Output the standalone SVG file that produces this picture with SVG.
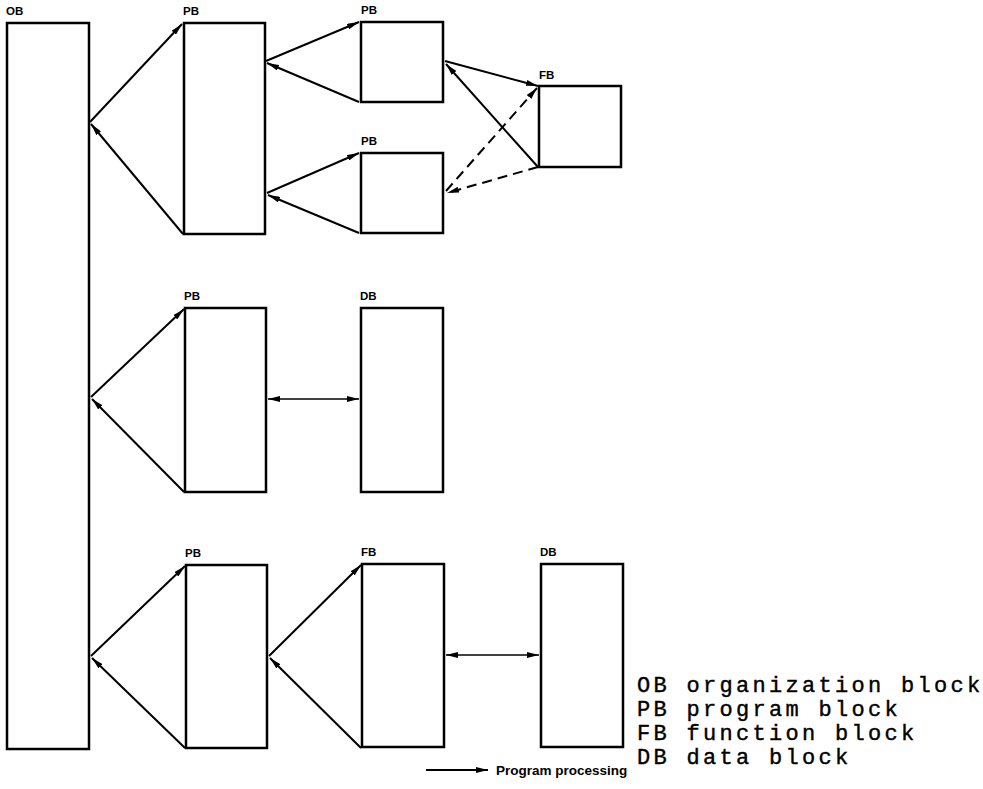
<svg xmlns="http://www.w3.org/2000/svg" width="983" height="789" viewBox="0 0 983 789">
<style>
.box{fill:#fff;stroke:#000;stroke-width:2.5}
.lbl{font-family:"Liberation Sans",Arial,sans-serif;font-size:11.5px;font-weight:bold;fill:#000}
.c{stroke:#000;stroke-width:2;fill:none}
.d{stroke:#000;stroke-width:1.6;fill:none}
.dash{stroke-dasharray:10 6}
.leg{font-family:"Liberation Mono","Courier New",monospace;font-size:22px;letter-spacing:3.3px;fill:#000;stroke:#000;stroke-width:0.4}
.pp{font-family:"Liberation Sans",Arial,sans-serif;font-size:13.5px;font-weight:bold;fill:#000}
</style>
<defs>
<marker id="ah" viewBox="0 0 12 6" refX="12" refY="3" markerWidth="12" markerHeight="6" markerUnits="userSpaceOnUse" orient="auto-start-reverse">
<path d="M0,0 L12,3 L0,6 Z" fill="#000"/>
</marker>
</defs>
<rect width="983" height="789" fill="#fff"/>
<g id="ob"><rect class="box" x="7" y="23" width="82" height="726"/><text class="lbl" x="6" y="15">OB</text></g>
<g id="pb1"><rect class="box" x="184" y="23" width="81" height="211"/><text class="lbl" x="183" y="15">PB</text></g>
<g id="pb2"><rect class="box" x="361" y="22" width="82" height="80"/><text class="lbl" x="361" y="14">PB</text></g>
<g id="pb3"><rect class="box" x="361" y="153" width="82" height="80"/><text class="lbl" x="361" y="145">PB</text></g>
<g id="fb1"><rect class="box" x="539" y="86" width="82" height="81"/><text class="lbl" x="539" y="79">FB</text></g>
<g id="pb4"><rect class="box" x="185" y="308" width="81" height="184"/><text class="lbl" x="184" y="300">PB</text></g>
<g id="db1"><rect class="box" x="361" y="308" width="82" height="184"/><text class="lbl" x="360" y="300">DB</text></g>
<g id="pb5"><rect class="box" x="186" y="565" width="81" height="183"/><text class="lbl" x="185" y="557">PB</text></g>
<g id="fb2"><rect class="box" x="362" y="564" width="82" height="183"/><text class="lbl" x="361" y="556">FB</text></g>
<g id="db2"><rect class="box" x="541" y="564" width="82" height="183"/><text class="lbl" x="540" y="556">DB</text></g>
<g id="connectors">
<line class="c" x1="90" y1="122" x2="182" y2="24" marker-end="url(#ah)"/>
<line class="c" x1="183" y1="234" x2="91" y2="124" marker-end="url(#ah)"/>
<line class="c" x1="266" y1="61" x2="359" y2="22" marker-end="url(#ah)"/>
<line class="c" x1="359" y1="102" x2="267" y2="63" marker-end="url(#ah)"/>
<line class="c" x1="267" y1="193" x2="359" y2="153" marker-end="url(#ah)"/>
<line class="c" x1="359" y1="233" x2="268" y2="195" marker-end="url(#ah)"/>
<line class="c" x1="445" y1="61" x2="538" y2="86" marker-end="url(#ah)"/>
<line class="c" x1="538" y1="167" x2="446" y2="64" marker-end="url(#ah)"/>
<line class="c dash" x1="446" y1="191" x2="537" y2="88" marker-end="url(#ah)"/>
<line class="c dash" x1="538" y1="167" x2="447" y2="193" marker-end="url(#ah)"/>
<line class="c" x1="91" y1="397" x2="184" y2="309" marker-end="url(#ah)"/>
<line class="c" x1="184" y1="492" x2="92" y2="399" marker-end="url(#ah)"/>
<line class="d" x1="268" y1="399" x2="359" y2="399" marker-start="url(#ah)" marker-end="url(#ah)"/>
<line class="c" x1="91" y1="656" x2="185" y2="566" marker-end="url(#ah)"/>
<line class="c" x1="185" y1="748" x2="92" y2="658" marker-end="url(#ah)"/>
<line class="c" x1="269" y1="656" x2="361" y2="565" marker-end="url(#ah)"/>
<line class="c" x1="361" y1="748" x2="270" y2="658" marker-end="url(#ah)"/>
<line class="d" x1="446" y1="655" x2="539" y2="655" marker-start="url(#ah)" marker-end="url(#ah)"/>
</g>
<g id="legend">
<line class="c" x1="426" y1="770" x2="488" y2="770" marker-end="url(#ah)"/>
<text class="pp" x="496" y="775">Program processing</text>
<text class="leg" x="637" y="692">OB organization block</text>
<text class="leg" x="637" y="716">PB program block</text>
<text class="leg" x="637" y="740">FB function block</text>
<text class="leg" x="637" y="764">DB data block</text>
</g>
</svg>
